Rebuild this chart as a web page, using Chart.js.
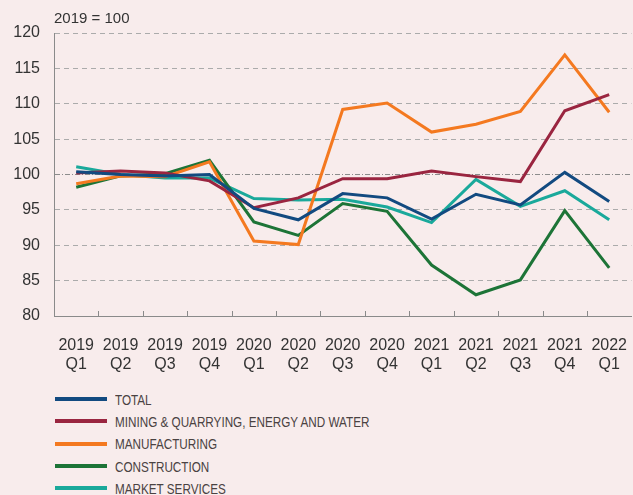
<!DOCTYPE html>
<html lang="en">
<head>
<meta charset="UTF-8" />
<title>Output index</title>
<script src="https://cdn.jsdelivr.net/npm/chart.js"></script>
<style>
  html, body {
    margin: 0;
    padding: 0;
    background: #f8ecec;
    overflow: hidden;
    width: 633px;
    height: 495px;
  }
  .wrap {
    position: relative;
    width: 639px;
    height: 372px;
  }
  .unit {
    position: absolute;
    left: 54px;
    top: 9px;
    font: 15px "Liberation Sans", Arial, sans-serif;
    color: #333;
  }
  #legend {
    position: absolute;
    left: 55px;
    top: 388px;
    font-family: "Liberation Sans Narrow", "Liberation Sans", sans-serif;
    font-size: 15px;
    color: #4a4242;
  }
  #legend .item {
    height: 22.3px;
    display: flex;
    align-items: center;
    white-space: nowrap;
  }
  #legend .swatch {
    width: 52px;
    height: 4px;
    margin-right: 8px;
  }
  #legend .text {
    display: inline-block;
    transform: scaleX(0.78);
    transform-origin: left center;
  }
</style>
</head>
<body>

<div class="wrap">
  <div class="unit">2019 = 100</div>
  <canvas id="chart" width="639" height="372"></canvas>
</div>
<div id="legend"></div>

<script>
  const quarters = [
    ['2019', 'Q1'], ['2019', 'Q2'], ['2019', 'Q3'], ['2019', 'Q4'],
    ['2020', 'Q1'], ['2020', 'Q2'], ['2020', 'Q3'], ['2020', 'Q4'],
    ['2021', 'Q1'], ['2021', 'Q2'], ['2021', 'Q3'], ['2021', 'Q4'],
    ['2022', 'Q1']
  ];

  const total         = [100.4, 100.0, 99.8, 100.0, 95.2, 93.6, 97.3, 96.7, 93.7, 97.2, 95.7, 100.3, 96.2];
  const mining        = [100.2, 100.5, 100.2, 99.1, 95.3, 96.7, 99.4, 99.4, 100.5, 99.7, 99.0, 109.0, 111.3];
  const manufacturing = [98.7, 99.8, 99.7, 101.8, 90.6, 90.1, 109.2, 110.1, 106.0, 107.1, 108.9, 116.9, 108.8];
  const construction  = [98.2, 99.8, 100.1, 102.0, 93.3, 91.4, 95.9, 94.8, 87.2, 83.0, 85.1, 94.9, 86.8];
  const services      = [101.1, 100.0, 99.5, 99.5, 96.6, 96.4, 96.5, 95.4, 93.2, 99.3, 95.5, 97.7, 93.6];

  const seriesNames = [
    'TOTAL',
    'MINING & QUARRYING, ENERGY AND WATER',
    'MANUFACTURING',
    'CONSTRUCTION',
    'MARKET SERVICES'
  ];
  const seriesColors = ['#124a80', '#9a2540', '#f47920', '#1d7437', '#1aa99b'];
  const seriesData = [total, mining, manufacturing, construction, services];

  const datasets = seriesNames.map((name, i) => ({
    label: name,
    data: seriesData[i],
    borderColor: seriesColors[i],
    backgroundColor: seriesColors[i],
    borderWidth: 3,
    pointRadius: 0,
    tension: 0
  }));
  // draw TOTAL on top
  datasets.forEach((d, i) => { d.order = i === 0 ? 0 : 1; });

  // small inside tick marks on the x axis, between the quarters
  const innerTicks = {
    id: 'innerTicks',
    afterDraw(chart) {
      const x = chart.scales.x;
      const ctx = chart.ctx;
      const bottom = chart.chartArea.bottom;
      ctx.save();
      ctx.strokeStyle = '#8a8a8a';
      ctx.lineWidth = 1;
      for (let i = 1; i < quarters.length; i++) {
        const px = Math.round((x.getPixelForValue(i - 1) + x.getPixelForValue(i)) / 2) + 0.5;
        ctx.beginPath();
        ctx.moveTo(px, bottom);
        ctx.lineTo(px, bottom - 5);
        ctx.stroke();
      }
      ctx.restore();
    }
  };

  const font = { family: '"Liberation Sans", Arial, sans-serif', size: 16 };

  new Chart(document.getElementById('chart'), {
    type: 'line',
    data: { labels: quarters, datasets: datasets },
    plugins: [innerTicks],
    options: {
      responsive: false,
      animation: false,
      layout: { padding: { top: 33, right: 0, left: 0, bottom: 0 } },
      plugins: {
        legend: { display: false },
        tooltip: { enabled: false }
      },
      scales: {
        x: {
          offset: true,
          grid: { display: false },
          border: { display: true, color: '#8a8a8a', width: 1 },
          ticks: {
            color: '#333',
            font: font,
            padding: 12,
            maxRotation: 0,
            autoSkip: false
          },
          afterFit(scale) { scale.height = 56; }
        },
        y: {
          min: 80,
          max: 120,
          ticks: {
            stepSize: 5,
            color: '#333',
            font: font,
            padding: 14
          },
          grid: {
            drawTicks: false,
            lineWidth: 1,
            color: ctx => ctx.tick && ctx.tick.value === 100 ? '#8c8c8c' : '#ababab'
          },
          border: {
            display: true,
            color: '#8a8a8a',
            width: 1,
            dash: ctx => ctx.tick && ctx.tick.value === 100 ? [5, 2, 1, 2] : [5, 4]
          },
          afterFit(scale) { scale.width = 54; }
        }
      }
    }
  });

  const legend = document.getElementById('legend');
  seriesNames.forEach((name, i) => {
    const item = document.createElement('div');
    item.className = 'item';
    const sw = document.createElement('span');
    sw.className = 'swatch';
    sw.style.background = seriesColors[i];
    const label = document.createElement('span');
    label.className = 'text';
    label.textContent = name;
    item.appendChild(sw);
    item.appendChild(label);
    legend.appendChild(item);
  });
</script>
</body>
</html>
